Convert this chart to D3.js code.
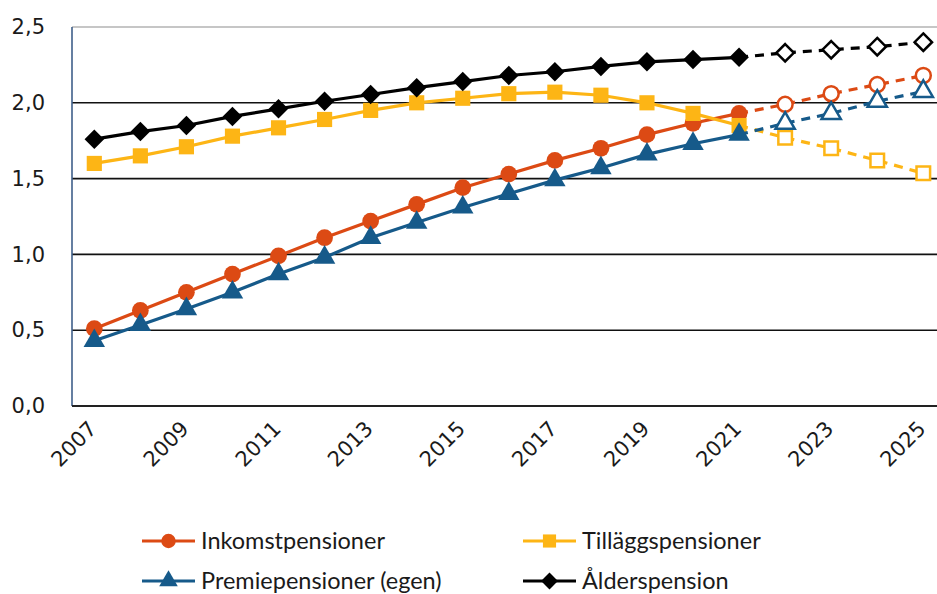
<!DOCTYPE html>
<html>
<head>
<meta charset="utf-8">
<script src="https://cdn.jsdelivr.net/npm/d3@7"></script>
<style>
  body { margin: 0; background: #fff; }
  .tick text { font-family: "DejaVu Sans", sans-serif; font-size: 21px; fill: #1a1a1a; }
  .legendText { font-family: "Lato", "Liberation Sans Narrow", sans-serif; font-size: 23.5px; fill: #1a1a1a; }
</style>
</head>
<body>
<div id="chart"></div>
<script>

// data
const years = d3.range(2007, 2026);
const lastActual = 2021;
const yTicks = [0, 0.5, 1.0, 1.5, 2.0, 2.5];
const xTicks = [2007, 2009, 2011, 2013, 2015, 2017, 2019, 2021, 2023, 2025];

const inkomst = [0.51, 0.63, 0.75, 0.87, 0.99, 1.11, 1.22, 1.33, 1.44, 1.53,
                 1.62, 1.70, 1.79, 1.865, 1.93, 1.99, 2.06, 2.12, 2.18];
const tillagg = [1.60, 1.65, 1.71, 1.78, 1.835, 1.89, 1.95, 2.00, 2.03, 2.06,
                 2.07, 2.05, 2.00, 1.93, 1.85, 1.77, 1.70, 1.62, 1.535];
const premie  = [0.43, 0.535, 0.64, 0.75, 0.87, 0.98, 1.11, 1.21, 1.31, 1.40,
                 1.49, 1.57, 1.66, 1.73, 1.79, 1.865, 1.93, 2.01, 2.075];
const alder   = [1.76, 1.81, 1.85, 1.91, 1.96, 2.01, 2.055, 2.10, 2.14, 2.18,
                 2.205, 2.24, 2.27, 2.285, 2.30, 2.33, 2.35, 2.37, 2.40];

const seriesNames = ["Inkomstpensioner", "Tilläggspensioner", "Premiepensioner (egen)", "Ålderspension"];

/**********************
***** BASIC SETUP *****
**********************/

const width = 937;
const height = 594;
const margin = {top: 27, left: 72, right: 0, bottom: 188};

const COLORS = ["#dc4a14", "#fdb515", "#165a8a", "#000000"];

// Excel-style diamond: a square turned 45 degrees
const symbolRhomb = {
    draw: function(context, size) {
        const r = Math.sqrt(size / 2);
        context.moveTo(0, -r);
        context.lineTo(r, 0);
        context.lineTo(0, r);
        context.lineTo(-r, 0);
        context.closePath();
    }
};

const SHAPES = [d3.symbolCircle, d3.symbolSquare, d3.symbolTriangle, symbolRhomb];
const SIZES = [220, 230, 200, 190];

const svg = d3.select("#chart").append("svg")
    .attr("width", width)
    .attr("height", height);

const x = d3.scaleLinear()
    .domain([2007, 2025])
    .range([94.3, 923.3]);

const y = d3.scaleLinear()
    .domain([0, 2.5])
    .range([height - margin.bottom, margin.top]);

const series = [inkomst, tillagg, premie, alder].map(function(vals, i) {
    return {
        name: seriesNames[i],
        color: COLORS[i],
        shape: SHAPES[i],
        size: SIZES[i],
        values: years.map((yr, j) => ({year: yr, value: vals[j]}))
    };
});

/********************
***** GRIDLINES *****
********************/

svg.append("g")
    .attr("class", "grid")
    .selectAll("line")
    .data(yTicks.filter(d => d > 0))
    .enter()
    .append("line")
    .attr("x1", margin.left)
    .attr("x2", width)
    .attr("y1", d => y(d))
    .attr("y2", d => y(d))
    .attr("stroke", d => d === 2.5 ? "#c6c6c6" : "#111")
    .attr("stroke-width", d => d === 2.5 ? 2 : 1.6);

/***************
***** AXES *****
***************/

const yAxis = svg.append("g")
    .attr("transform", `translate(${margin.left},0)`)
    .call(d3.axisLeft(y)
        .tickValues(yTicks)
        .tickSize(0)
        .tickPadding(27)
        .tickFormat(d => d3.format(".1f")(d).replace(".", ",")));
yAxis.select(".domain").remove();

svg.append("line")
    .attr("x1", margin.left).attr("x2", margin.left)
    .attr("y1", y(2.5)).attr("y2", y(0))
    .attr("stroke", "#3f5f8a")
    .attr("stroke-width", 1.6);

const xAxis = svg.append("g")
    .attr("transform", `translate(0,${y(0)})`)
    .call(d3.axisBottom(x)
        .tickValues(xTicks)
        .tickSize(0)
        .tickFormat(d3.format("d")));
xAxis.select(".domain").remove();
xAxis.selectAll(".tick text")
    .attr("text-anchor", "end")
    .attr("dy", 0)
    .attr("transform", "translate(1,22) rotate(-45)");

svg.append("line")
    .attr("x1", margin.left).attr("x2", width)
    .attr("y1", y(0)).attr("y2", y(0))
    .attr("stroke", "#222")
    .attr("stroke-width", 1.8);

/****************
***** LINES *****
****************/

const line = d3.line()
    .x(d => x(d.year))
    .y(d => y(d.value));

const plot = svg.append("g").attr("id", "plot");

series.forEach(function(s) {
    const g = plot.append("g").attr("class", "series");

    g.append("path")
        .datum(s.values.filter(d => d.year <= lastActual))
        .attr("d", line)
        .attr("fill", "none")
        .attr("stroke", s.color)
        .attr("stroke-width", 3.2);

    g.append("path")
        .datum(s.values.filter(d => d.year >= lastActual))
        .attr("d", line)
        .attr("fill", "none")
        .attr("stroke", s.color)
        .attr("stroke-width", 3.2)
        .attr("stroke-dasharray", "9,7");

    // filled markers for outcome, open markers for projection
    g.selectAll(".marker")
        .data(s.values)
        .enter()
        .append("path")
        .attr("class", "marker")
        .attr("transform", d => `translate(${x(d.year)},${y(d.value)})`)
        .attr("d", d => d3.symbol().type(s.shape)
            .size(d.year <= lastActual ? s.size : s.size * 0.8)())
        .attr("fill", d => d.year <= lastActual ? s.color : "#fff")
        .attr("stroke", s.color)
        .attr("stroke-width", d => d.year <= lastActual ? 0 : 2.5);
});

/*****************
***** LEGEND *****
*****************/

const legend = svg.append("g").attr("class", "legend");

const legendItems = legend.selectAll(".legendItem")
    .data(series)
    .enter()
    .append("g")
    .attr("class", "legendItem")
    .attr("transform", (d, i) => `translate(${142 + (i % 2) * 381},${541 + Math.floor(i / 2) * 40})`);

legendItems.append("line")
    .attr("x1", 0).attr("x2", 53)
    .attr("y1", 0).attr("y2", 0)
    .attr("stroke", d => d.color)
    .attr("stroke-width", 3.2);

legendItems.append("path")
    .attr("transform", "translate(26.5,0)")
    .attr("d", d => d3.symbol().type(d.shape).size(d.size * 0.75)())
    .attr("fill", d => d.color);

legendItems.append("text")
    .attr("class", "legendText")
    .attr("x", 59)
    .attr("y", 8)
    .text(d => d.name);

</script>
</body>
</html>
